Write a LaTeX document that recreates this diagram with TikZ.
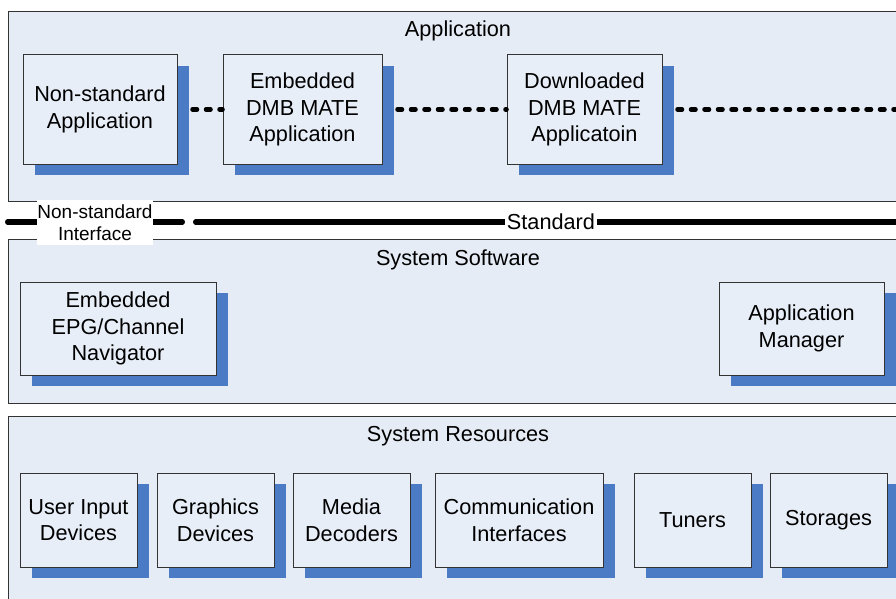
\documentclass[tikz,border=0pt]{standalone}
\usepackage{fontspec}
\setmainfont{Liberation Sans}
\usetikzlibrary{shadows}

\definecolor{panelfill}{HTML}{E6ECF6}
\definecolor{boxfill}{HTML}{E8EEF8}
\definecolor{shadowblue}{HTML}{4A7BC4}
\definecolor{edgegray}{HTML}{333333}

\tikzset{
  layer/.style={draw=edgegray, line width=1pt, fill=panelfill, anchor=north west,
    inner sep=0pt, minimum width=900pt},
  layertitle/.style={font=\fontsize{21.7}{26}\selectfont, inner sep=0pt},
  block/.style={draw=edgegray, line width=1pt, fill=boxfill, align=center, inner sep=0pt,
    font=\fontsize{21.7}{26.5}\selectfont,
    drop shadow={shadow xshift=12pt, shadow yshift=-11pt, fill=shadowblue, opacity=1, draw=none}},
  dotline/.style={line width=4.5pt, line cap=round, dash pattern=on 4.5pt off 9pt},
  boundary/.style={line width=5.5pt, line cap=round},
  ifacelabel/.style={fill=white, inner xsep=0.5pt, inner ysep=0pt, align=center,
    font=\fontsize{19}{22}\selectfont, minimum height=45pt, minimum width=116pt},
  stdlabel/.style={fill=white, inner xsep=1.5pt, inner ysep=1pt,
    font=\fontsize{21.7}{26}\selectfont},
}

\begin{document}
\begin{tikzpicture}[x=1pt, y=-1pt]
\clip (0,0) rectangle (896,599);
\fill[white] (0,0) rectangle (896,599);

% the three layers
\node[layer, minimum height=190pt] (applayer) at (8,11) {};
\node[layer, minimum height=164pt] (swlayer) at (8,239) {};
\node[layer, minimum height=204pt] (reslayer) at (8,416) {};
\node[layertitle] (apptitle) at (458,31) {Application};
\node[layertitle] (swtitle) at (458,259.5) {System Software};
\node[layertitle] (restitle) at (458,436) {System Resources};

% interface boundary between applications and system software
\coordinate (nsleft) at (7.75,222);
\coordinate (nsright) at (182.25,222);
\coordinate (stdleft) at (195.75,222);
\coordinate (stdright) at (905,222);
\draw[boundary] (nsleft) -- (nsright);
\draw[boundary] (stdleft) -- (stdright);
\node[ifacelabel] (nsiface) at (95,222.5) {Non-standard\\Interface};
\node[stdlabel] (stdiface) at (551,222) {Standard};

% application layer
\node[block, minimum width=154pt, minimum height=109pt] (nsapp) at (100,109.5) {Non-standard\\Application};
\node[block, minimum width=159pt, minimum height=109pt] (embapp) at (302.5,109.5) {Embedded\\DMB MATE\\Application};
\node[block, minimum width=155pt, minimum height=109pt] (dlapp) at (584.5,109.5) {Downloaded\\DMB MATE\\Applicatoin};
\coordinate (appmore) at (905,109.5);

% system software layer
\node[block, minimum width=196pt, minimum height=93pt] (epg) at (118,328.5) {Embedded\\EPG/Channel\\Navigator};
\node[block, minimum width=165pt, minimum height=93pt] (appmgr) at (801.5,328.5) {Application\\Manager};

% system resources layer
\node[block, minimum width=117pt, minimum height=94pt] (uinput) at (78.5,520) {User Input\\Devices};
\node[block, minimum width=117pt, minimum height=94pt] (gfx) at (215.5,520) {Graphics\\Devices};
\node[block, minimum width=117pt, minimum height=94pt] (media) at (351.5,520) {Media\\Decoders};
\node[block, minimum width=168pt, minimum height=94pt] (comm) at (519,520) {Communication\\Interfaces};
\node[block, minimum width=117pt, minimum height=94pt] (tuner) at (692.5,520) {Tuners};
\node[block, minimum width=117pt, minimum height=94pt] (store) at (828.5,520) {Storages};

% dotted links between applications
\draw[dotline] ([xshift=15pt]nsapp.east) -- (embapp.west);
\draw[dotline] ([xshift=15pt]embapp.east) -- (dlapp.west);
\draw[dotline] ([xshift=15pt]dlapp.east) -- (appmore);
\end{tikzpicture}
\end{document}
